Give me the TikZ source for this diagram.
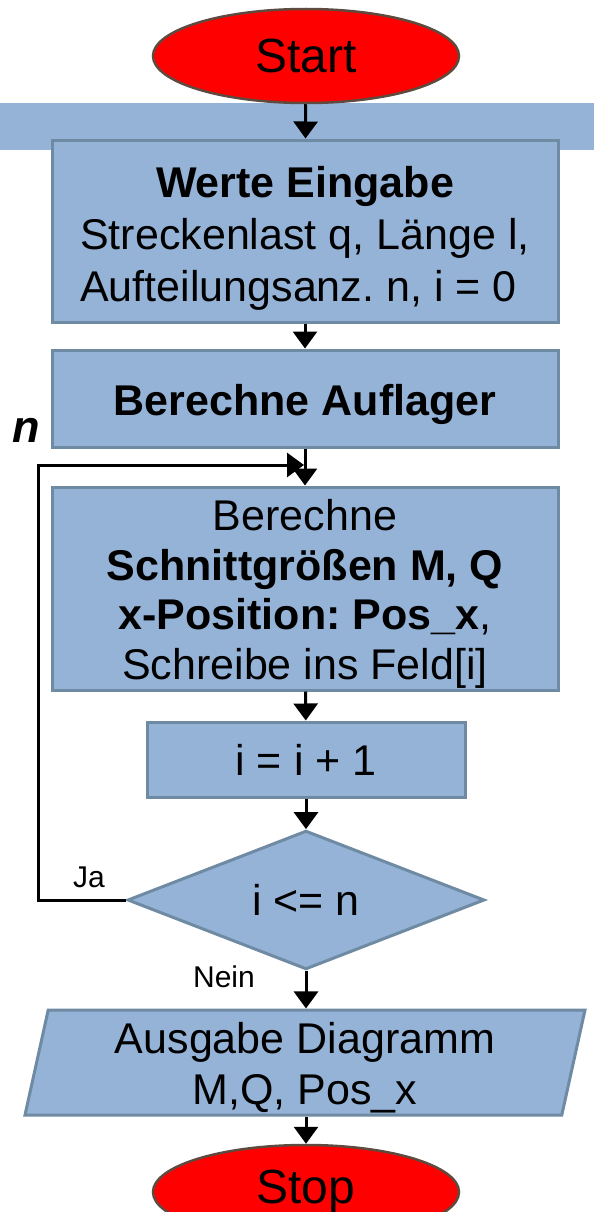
\documentclass[tikz,border=0pt]{standalone}
\usepackage{fontspec}
\setmainfont{Liberation Sans}
\usepackage{tikz}
\usetikzlibrary{shapes.geometric, arrows.meta, positioning, calc}
\definecolor{boxfill}{HTML}{95B3D7}
\definecolor{boxline}{HTML}{6F8AA3}
\definecolor{termred}{HTML}{FF0000}
\definecolor{termline}{HTML}{5E4A3E}
\newcommand{\topstrut}[1]{\rule{0pt}{#1}}
\frenchspacing

\begin{document}
\begin{tikzpicture}[
    x=1pt, y=-1pt,
    terminal/.style={ellipse, draw=termline, line width=2.5pt, fill=termred, inner sep=0pt,
        minimum width=306pt, minimum height=94pt, font=\fontsize{48}{56}\selectfont},
    process/.style={rectangle, draw=boxline, line width=3pt, fill=boxfill, inner sep=0pt,
        minimum width=#1, align=center, font=\fontsize{43}{51}\selectfont},
    process/.default=506pt,
    decision/.style={diamond, draw=boxline, line width=3pt, fill=boxfill, inner sep=0pt,
        minimum width=357pt, minimum height=136pt, font=\fontsize{43}{51}\selectfont},
    output/.style={trapezium, trapezium left angle=77, trapezium right angle=103,
        trapezium stretches body, draw=boxline, line width=3pt, fill=boxfill, inner sep=0pt,
        minimum width=560pt, minimum height=105pt, align=center, font=\fontsize{43}{51}\selectfont},
    flow/.style={draw=black, line width=3pt, -{Triangle[width=24pt,length=17pt]}},
    note/.style={font=\fontsize{30}{34}\selectfont},
]
\useasboundingbox (0,0) rectangle (594,1212);
\clip (0,0) rectangle (594,1212);

% band behind the input box
\fill[boxfill] (0,103) rectangle (594,150);

\node[terminal] (start) at (306,56) {Start};
\node[process, minimum height=182pt, font=\fontsize{43}{52}\selectfont] (eingabe) at (305,231)
    {\begin{tabular}{@{}l@{}}
     \multicolumn{1}{@{}c@{}}{\topstrut{53pt}\textbf{Werte Eingabe}}\\
     Streckenlast q, Länge l,\\
     Aufteilungsanz. n, i = 0
     \end{tabular}};
\node[process, minimum height=97pt] (auflager) at (305,398.5) {\topstrut{43pt}\textbf{Berechne Auflager}};
\node[process, minimum height=203pt, font=\fontsize{43}{49.5}\selectfont] (schnitt) at (305,588.5)
    {\topstrut{42pt}Berechne\\\textbf{Schnittgrößen M, Q}\\\textbf{x-Position: Pos\_x},\\Schreibe ins Feld[i]};
\node[process=318pt, minimum height=75pt] (inkrement) at (306,759.5) {i = i + 1};
\node[decision] (abfrage) at (306,900) {i <= n};
\node[output] (ausgabe) at (305,1062.5) {\topstrut{41pt}Ausgabe Diagramm\\M,Q, Pos\_x};
\node[terminal] (stop) at (306,1192) {Stop};

\node[font=\fontsize{45}{50}\selectfont\bfseries\itshape] (nlabel) at (26,430) {n};
\node[note] (ja) at (89,877) {Ja};
\node[note] (nein) at (224,977) {Nein};

\coordinate (merge) at (304,465);
\coordinate (links) at (38,900);

\draw[flow] (start) -- (eingabe);
\draw[flow] (eingabe) -- (auflager);
\draw[flow] (auflager.south -| schnitt.north) -- (schnitt.north);
\draw[flow] (schnitt) -- (inkrement);
\draw[flow] (inkrement) -- (abfrage);
\draw[flow] (abfrage) -- (ausgabe.north -| abfrage.south);
\draw[flow] (ausgabe.south -| stop.north) -- (stop);
\draw[flow, line cap=butt] (abfrage.west) -- (links) |- (merge);

\end{tikzpicture}
\end{document}
